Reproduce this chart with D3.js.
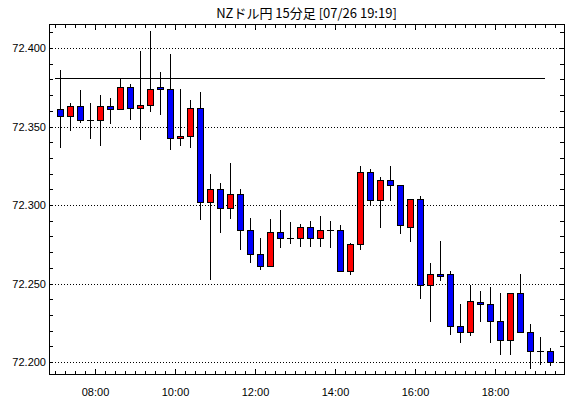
<!DOCTYPE html>
<html>
<head>
<meta charset="utf-8">
<script src="https://cdn.jsdelivr.net/npm/d3@7"></script>
<style>
  body { margin: 0; background: #fff; }
  svg { display: block; }
</style>
</head>
<body>
<svg width="570" height="398"></svg>
<script>
// 15 minute bars, 07:00 - 19:15
const times = ["07:00","07:15","07:30","07:45","08:00","08:15","08:30","08:45","09:00","09:15",
    "09:30","09:45","10:00","10:15","10:30","10:45","11:00","11:15","11:30","11:45",
    "12:00","12:15","12:30","12:45","13:00","13:15","13:30","13:45","14:00","14:15",
    "14:30","14:45","15:00","15:15","15:30","15:45","16:00","16:15","16:30","16:45",
    "17:00","17:15","17:30","17:45","18:00","18:15","18:30","18:45","19:00","19:15"];
const opens = [72.361,72.357,72.363,72.354,72.354,72.363,72.361,72.375,72.362,72.364,
    72.375,72.374,72.343,72.344,72.362,72.302,72.310,72.298,72.307,72.284,
    72.269,72.261,72.283,72.279,72.279,72.286,72.279,72.284,72.284,72.258,
    72.275,72.321,72.303,72.316,72.313,72.286,72.304,72.249,72.256,72.256,
    72.223,72.219,72.238,72.237,72.226,72.214,72.244,72.219,72.207,72.207];
const highs = [72.386,72.365,72.373,72.365,72.370,72.368,72.380,72.377,72.398,72.411,
    72.385,72.396,72.374,72.367,72.372,72.320,72.314,72.327,72.310,72.292,
    72.279,72.291,72.297,72.289,72.288,72.290,72.293,72.290,72.287,72.276,
    72.325,72.323,72.318,72.325,72.313,72.304,72.306,72.263,72.277,72.258,
    72.237,72.249,72.245,72.248,72.244,72.244,72.256,72.224,72.216,72.209];
const lows = [72.337,72.348,72.353,72.343,72.338,72.352,72.361,72.355,72.342,72.360,
    72.358,72.336,72.338,72.337,72.291,72.253,72.283,72.292,72.272,72.264,
    72.259,72.261,72.273,72.276,72.274,72.274,72.274,72.273,72.258,72.256,
    72.272,72.300,72.286,72.303,72.282,72.277,72.241,72.226,72.252,72.218,
    72.213,72.217,72.226,72.213,72.205,72.205,72.219,72.196,72.199,72.198];
const closes = [72.357,72.363,72.354,72.354,72.363,72.361,72.375,72.362,72.364,72.374,
    72.374,72.343,72.344,72.362,72.302,72.310,72.298,72.307,72.284,72.269,
    72.261,72.283,72.279,72.279,72.286,72.279,72.284,72.284,72.258,72.275,
    72.321,72.303,72.316,72.313,72.287,72.304,72.249,72.256,72.255,72.223,
    72.219,72.239,72.237,72.226,72.214,72.244,72.219,72.207,72.207,72.200];

const refLevel = 72.381;
const refFrom = "07:00", refTo = "19:15";
const yLabels = [72.200, 72.250, 72.300, 72.350, 72.400];
const xLabels = ["08:00","10:00","12:00","14:00","16:00","18:00"];
const title = "NZドル円 15分足 [07/26 19:19]";

let parse = d3.timeParse("%H:%M");
let svg = d3.select("svg");
let margin = { left: 49, right: 564, top: 24, bottom: 374 };

let x = d3.scaleTime()
    .domain([parse("06:51"), d3.timeSecond.offset(parse("19:43"), 30)])
    .rangeRound([margin.left, margin.right]);
let y = d3.scaleLinear()
    .domain([72.1924, 72.4153])
    .rangeRound([margin.bottom, margin.top]);

let bars = times.map(function(t, i) {
    return { t: d3.timeSecond.offset(parse(t), 450), o: opens[i], h: highs[i], l: lows[i], c: closes[i] };
});

// title
svg.append("text")
    .attr("x", (margin.left + margin.right) / 2)
    .attr("y", 18)
    .attr("text-anchor", "middle")
    .style("font-family", "'Noto Sans CJK JP', sans-serif")
    .style("font-size", "13px")
    .text(title);

// dotted grid
svg.selectAll(".grid").data(yLabels).enter().append("line")
    .attr("class", "grid")
    .attr("x1", margin.left).attr("x2", margin.right)
    .attr("y1", function(d) { return y(d) + 0.5; })
    .attr("y2", function(d) { return y(d) + 0.5; })
    .attr("stroke", "#000")
    .attr("stroke-dasharray", "1,2");

// ticks
let quarters = x.ticks(d3.timeMinute.every(15));
let majors = xLabels.map(function(d) { return parse(d); });
let cents = d3.range(0, 22).map(function(i) { return 72.2 + i * 0.01; });

function clean(g) {
    g.select(".domain").remove();
    g.selectAll("line").attr("stroke", "#000");
    g.selectAll("text").style("font-family", "'Liberation Sans', Arial, sans-serif")
        .style("font-size", "11px").attr("fill", "#000");
}

svg.append("g").attr("transform", "translate(0," + margin.bottom + ")")
    .call(d3.axisBottom(x).tickValues(quarters).tickSize(-3).tickFormat("")).call(clean);
svg.append("g").attr("transform", "translate(0," + margin.bottom + ")")
    .call(d3.axisBottom(x).tickValues(majors).tickSize(-5).tickPadding(14)
        .tickFormat(d3.timeFormat("%H:%M"))).call(clean);
svg.append("g").attr("transform", "translate(0," + margin.top + ")")
    .call(d3.axisTop(x).tickValues(quarters).tickSize(-4).tickFormat("")).call(clean);
svg.append("g").attr("transform", "translate(0," + margin.top + ")")
    .call(d3.axisTop(x).tickValues(majors).tickSize(-6).tickFormat("")).call(clean);

svg.append("g").attr("transform", "translate(" + margin.left + ",0)")
    .call(d3.axisLeft(y).tickValues(cents).tickSize(-4).tickFormat("")).call(clean);
svg.append("g").attr("transform", "translate(" + margin.left + ",0)")
    .call(d3.axisLeft(y).tickValues(yLabels).tickSize(0).tickPadding(3)
        .tickFormat(d3.format(".3f"))).call(clean);
svg.append("g").attr("transform", "translate(" + margin.right + ",0)")
    .call(d3.axisRight(y).tickValues(cents).tickSize(-4).tickFormat("")).call(clean);

// frame
svg.append("rect")
    .attr("x", margin.left + 0.5).attr("y", margin.top + 0.5)
    .attr("width", margin.right - margin.left).attr("height", margin.bottom - margin.top)
    .attr("fill", "none").attr("stroke", "#000");

// reference level
svg.append("line")
    .attr("x1", x(parse(refFrom))).attr("x2", x(parse(refTo)))
    .attr("y1", y(refLevel) + 0.5).attr("y2", y(refLevel) + 0.5)
    .attr("stroke", "#000");

// candles
let candle = svg.selectAll(".candle").data(bars).enter().append("g").attr("class", "candle");

candle.append("line")
    .attr("x1", function(d) { return x(d.t) + 0.5; })
    .attr("x2", function(d) { return x(d.t) + 0.5; })
    .attr("y1", function(d) { return y(d.h); })
    .attr("y2", function(d) { return y(d.l) + 1; })
    .attr("stroke", "#000");

candle.filter(function(d) { return y(d.o) == y(d.c); }).append("line")
    .attr("x1", function(d) { return x(d.t) - 3; })
    .attr("x2", function(d) { return x(d.t) + 4; })
    .attr("y1", function(d) { return y(d.o) + 0.5; })
    .attr("y2", function(d) { return y(d.o) + 0.5; })
    .attr("stroke", "#000");

candle.filter(function(d) { return y(d.o) != y(d.c); }).append("rect")
    .attr("x", function(d) { return x(d.t) - 2.5; })
    .attr("y", function(d) { return Math.min(y(d.o), y(d.c)) + 0.5; })
    .attr("width", 6)
    .attr("height", function(d) { return Math.abs(y(d.o) - y(d.c)); })
    .attr("fill", function(d) { return d.c > d.o ? "#ff0000" : "#0000ff"; })
    .attr("stroke", "#000");
</script>
</body>
</html>
